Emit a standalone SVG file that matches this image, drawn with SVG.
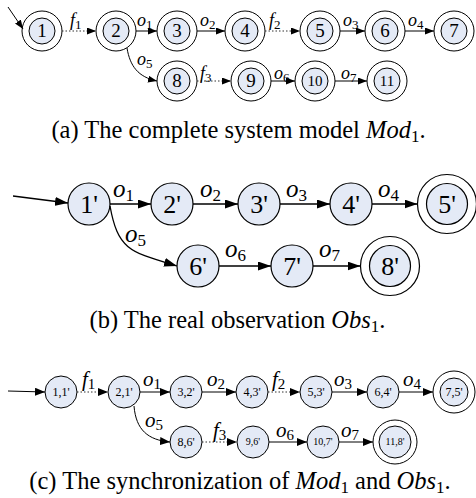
<svg xmlns="http://www.w3.org/2000/svg" width="476" height="498" viewBox="0 0 476 498">
<defs>
<style>
.n{fill:#e4eaf6;stroke:#000;stroke-width:1}
.o{fill:#fff;stroke:#000;stroke-width:1}
.nb{fill:#e4eaf6;stroke:#000;stroke-width:1.2}
.ob{fill:#fff;stroke:#000;stroke-width:1.2}
.e{fill:none;stroke:#000;stroke-width:1}
.eb{fill:none;stroke:#000;stroke-width:1.3}
.d{fill:none;stroke:#333;stroke-width:1;stroke-dasharray:1.5 2}
.t{font-family:"Liberation Serif","Times New Roman",serif;text-anchor:middle;fill:#000}
.l{font-family:"Liberation Serif","Times New Roman",serif;font-style:italic;fill:#000}
.s{font-style:normal}
.cap{font-family:"Liberation Serif","Times New Roman",serif;font-size:24.5px;text-anchor:middle;fill:#000}
</style>
<marker id="aA" viewBox="0 0 9 7" markerWidth="9" markerHeight="7" refX="9" refY="3.5" orient="auto" markerUnits="userSpaceOnUse"><path d="M0,0 L9,3.5 L0,7 z" fill="#000"/></marker>
<marker id="aB" viewBox="0 0 13 9" markerWidth="13" markerHeight="9" refX="13" refY="4.5" orient="auto" markerUnits="userSpaceOnUse"><path d="M0,0 L13,4.5 L0,9 z" fill="#000"/></marker>
<marker id="aC" viewBox="0 0 10 8" markerWidth="10" markerHeight="8" refX="10" refY="4" orient="auto" markerUnits="userSpaceOnUse"><path d="M0,0 L10,4 L0,8 z" fill="#000"/></marker>
</defs>
<rect width="476" height="498" fill="#fff"/>

<!-- (a) nodes -->
<g id="a1"><circle class="o" cx="42" cy="31" r="20"/><circle class="n" cx="42" cy="31" r="13"/><text class="t" x="42" y="37.4" font-size="19">1</text></g>
<g id="a2"><circle class="o" cx="116" cy="31" r="20"/><circle class="n" cx="116" cy="31" r="13"/><text class="t" x="116" y="37.4" font-size="19">2</text></g>
<g id="a3"><circle class="o" cx="177" cy="31" r="20"/><circle class="n" cx="177" cy="31" r="13"/><text class="t" x="177" y="37.4" font-size="19">3</text></g>
<g id="a4"><circle class="o" cx="245" cy="31" r="20"/><circle class="n" cx="245" cy="31" r="13"/><text class="t" x="245" y="37.4" font-size="19">4</text></g>
<g id="a5"><circle class="o" cx="320" cy="31" r="20"/><circle class="n" cx="320" cy="31" r="13"/><text class="t" x="320" y="37.4" font-size="19">5</text></g>
<g id="a6"><circle class="o" cx="385" cy="31" r="20"/><circle class="n" cx="385" cy="31" r="13"/><text class="t" x="385" y="37.4" font-size="19">6</text></g>
<g id="a7"><circle class="o" cx="454" cy="31" r="20"/><circle class="n" cx="454" cy="31" r="13"/><text class="t" x="454" y="37.4" font-size="19">7</text></g>
<g id="a8"><circle class="o" cx="177" cy="81" r="20"/><circle class="n" cx="177" cy="81" r="13"/><text class="t" x="177" y="87.4" font-size="19">8</text></g>
<g id="a9"><circle class="o" cx="251" cy="81" r="20"/><circle class="n" cx="251" cy="81" r="13"/><text class="t" x="251" y="87.4" font-size="19">9</text></g>
<g id="a10"><circle class="o" cx="315" cy="81" r="20"/><circle class="n" cx="315" cy="81" r="13"/><text class="t" x="315" y="86" font-size="15">10</text></g>
<g id="a11"><circle class="o" cx="387" cy="81" r="20"/><circle class="n" cx="387" cy="81" r="13"/><text class="t" x="387" y="86" font-size="15">11</text></g>

<!-- (b) nodes -->
<g id="b1"><circle class="nb" cx="89" cy="204" r="21"/><text class="t" x="89" y="212.8" font-size="26">1'</text></g>
<g id="b2"><circle class="nb" cx="172" cy="204" r="21"/><text class="t" x="172" y="212.8" font-size="26">2'</text></g>
<g id="b3"><circle class="nb" cx="259" cy="204" r="21"/><text class="t" x="259" y="212.8" font-size="26">3'</text></g>
<g id="b4"><circle class="nb" cx="351" cy="204" r="21"/><text class="t" x="351" y="212.8" font-size="26">4'</text></g>
<g id="b5"><circle class="ob" cx="447" cy="204" r="29.5"/><circle class="nb" cx="447" cy="204" r="20.5"/><text class="t" x="447" y="212.8" font-size="26">5'</text></g>
<g id="b6"><circle class="nb" cx="198" cy="266" r="21"/><text class="t" x="198" y="274.8" font-size="26">6'</text></g>
<g id="b7"><circle class="nb" cx="292" cy="266" r="21"/><text class="t" x="292" y="274.8" font-size="26">7'</text></g>
<g id="b8"><circle class="ob" cx="390" cy="266" r="29.5"/><circle class="nb" cx="390" cy="266" r="20.5"/><text class="t" x="390" y="274.8" font-size="26">8'</text></g>

<!-- (c) nodes -->
<g id="c11"><circle class="n" cx="61" cy="392" r="16"/><text class="t" x="61" y="396" font-size="12">1,1'</text></g>
<g id="c21"><circle class="n" cx="124" cy="392" r="16"/><text class="t" x="124" y="396" font-size="12">2,1'</text></g>
<g id="c32"><circle class="n" cx="186" cy="392" r="16"/><text class="t" x="186" y="396" font-size="12">3,2'</text></g>
<g id="c43"><circle class="n" cx="252" cy="392" r="16"/><text class="t" x="252" y="396" font-size="12">4,3'</text></g>
<g id="c53"><circle class="n" cx="316" cy="392" r="16"/><text class="t" x="316" y="396" font-size="12">5,3'</text></g>
<g id="c64"><circle class="n" cx="383" cy="392" r="16"/><text class="t" x="383" y="396" font-size="12">6,4'</text></g>
<g id="c75"><circle class="o" cx="454" cy="392" r="21"/><circle class="n" cx="454" cy="392" r="14"/><text class="t" x="454" y="396" font-size="12">7,5'</text></g>
<g id="c86"><circle class="n" cx="186" cy="442" r="16"/><text class="t" x="186" y="446" font-size="12">8,6'</text></g>
<g id="c96"><circle class="n" cx="253" cy="442" r="16"/><text class="t" x="253" y="445.4" font-size="10">9,6'</text></g>
<g id="c107"><circle class="n" cx="323" cy="442" r="16"/><text class="t" x="323" y="445.4" font-size="10">10,7'</text></g>
<g id="c118"><circle class="o" cx="395" cy="442" r="22"/><circle class="n" cx="395" cy="442" r="16"/><text class="t" x="395" y="445.4" font-size="10">11,8'</text></g>

<g id="connectors">
<!-- (a) -->
<path class="e" d="M8,7 L23,29" marker-end="url(#aA)"/>
<path class="d" d="M62,31 L96,31" marker-end="url(#aA)"/>
<path class="e" d="M136,31 L157,31" marker-end="url(#aA)"/>
<path class="e" d="M197,31 L225,31" marker-end="url(#aA)"/>
<path class="d" d="M265,31 L300,31" marker-end="url(#aA)"/>
<path class="e" d="M340,31 L365,31" marker-end="url(#aA)"/>
<path class="e" d="M405,31 L434,31" marker-end="url(#aA)"/>
<path class="e" d="M127,48 C130,66 138,77 157,81" marker-end="url(#aA)"/>
<path class="d" d="M197,81 L231,81" marker-end="url(#aA)"/>
<path class="e" d="M271,81 L295,81" marker-end="url(#aA)"/>
<path class="e" d="M335,81 L367,81" marker-end="url(#aA)"/>
<g font-size="18">
<text class="l" x="70" y="25.5">f<tspan class="s" font-size="13" dy="3">1</tspan></text>
<text class="l" x="137" y="25.5">o<tspan class="s" font-size="13" dy="3">1</tspan></text>
<text class="l" x="200" y="25.5">o<tspan class="s" font-size="13" dy="3">2</tspan></text>
<text class="l" x="269" y="25.5">f<tspan class="s" font-size="13" dy="3">2</tspan></text>
<text class="l" x="343" y="25.5">o<tspan class="s" font-size="13" dy="3">3</tspan></text>
<text class="l" x="408" y="25.5">o<tspan class="s" font-size="13" dy="3">4</tspan></text>
<text class="l" x="137" y="65">o<tspan class="s" font-size="13" dy="3">5</tspan></text>
<text class="l" x="200" y="79">f<tspan class="s" font-size="13" dy="3">3</tspan></text>
<text class="l" x="274" y="79">o<tspan class="s" font-size="13" dy="3">6</tspan></text>
<text class="l" x="341" y="79">o<tspan class="s" font-size="13" dy="3">7</tspan></text>
</g>
<!-- (b) -->
<path class="eb" d="M13,196 L68,203" marker-end="url(#aB)"/>
<path class="eb" d="M110,204 L151,204" marker-end="url(#aB)"/>
<path class="eb" d="M193,204 L238,204" marker-end="url(#aB)"/>
<path class="eb" d="M280,204 L330,204" marker-end="url(#aB)"/>
<path class="eb" d="M372,204 L417.5,204" marker-end="url(#aB)"/>
<path class="eb" d="M110,206 C118,250 130,252 177,266" marker-end="url(#aB)"/>
<path class="eb" d="M219,266 L271,266" marker-end="url(#aB)"/>
<path class="eb" d="M313,266 L360.5,266" marker-end="url(#aB)"/>
<g font-size="25">
<text class="l" x="113" y="197">o<tspan class="s" font-size="17" dy="4">1</tspan></text>
<text class="l" x="200" y="197">o<tspan class="s" font-size="17" dy="4">2</tspan></text>
<text class="l" x="286" y="197">o<tspan class="s" font-size="17" dy="4">3</tspan></text>
<text class="l" x="378" y="197">o<tspan class="s" font-size="17" dy="4">4</tspan></text>
<text class="l" x="125" y="242">o<tspan class="s" font-size="17" dy="4">5</tspan></text>
<text class="l" x="225" y="257">o<tspan class="s" font-size="17" dy="4">6</tspan></text>
<text class="l" x="319" y="257">o<tspan class="s" font-size="17" dy="4">7</tspan></text>
</g>
<!-- (c) -->
<path class="e" d="M8,391 L45,392" marker-end="url(#aC)"/>
<path class="d" d="M77,392 L108,392" marker-end="url(#aC)"/>
<path class="e" d="M140,392 L170,392" marker-end="url(#aC)"/>
<path class="e" d="M202,392 L236,392" marker-end="url(#aC)"/>
<path class="d" d="M268,392 L300,392" marker-end="url(#aC)"/>
<path class="e" d="M332,392 L367,392" marker-end="url(#aC)"/>
<path class="e" d="M399,392 L433,392" marker-end="url(#aC)"/>
<path class="e" d="M134,406 C136,430 148,440 170,442" marker-end="url(#aC)"/>
<path class="d" d="M202,442 L237,442" marker-end="url(#aC)"/>
<path class="e" d="M269,442 L307,442" marker-end="url(#aC)"/>
<path class="e" d="M339,442 L373,442" marker-end="url(#aC)"/>
<g font-size="21">
<text class="l" x="82" y="386">f<tspan class="s" font-size="15" dy="3">1</tspan></text>
<text class="l" x="143" y="386">o<tspan class="s" font-size="15" dy="3">1</tspan></text>
<text class="l" x="207" y="386">o<tspan class="s" font-size="15" dy="3">2</tspan></text>
<text class="l" x="272" y="386">f<tspan class="s" font-size="15" dy="3">2</tspan></text>
<text class="l" x="334" y="386">o<tspan class="s" font-size="15" dy="3">3</tspan></text>
<text class="l" x="403" y="386">o<tspan class="s" font-size="15" dy="3">4</tspan></text>
<text class="l" x="145" y="427">o<tspan class="s" font-size="15" dy="3">5</tspan></text>
<text class="l" x="213" y="437">f<tspan class="s" font-size="15" dy="3">3</tspan></text>
<text class="l" x="276" y="437">o<tspan class="s" font-size="15" dy="3">6</tspan></text>
<text class="l" x="341" y="437">o<tspan class="s" font-size="15" dy="3">7</tspan></text>
</g>
</g>

<text class="cap" x="238.5" y="138">(a) The complete system model <tspan font-style="italic">Mod</tspan><tspan font-size="17" dy="3.5">1</tspan><tspan dy="-3.5">.</tspan></text>
<text class="cap" x="237.5" y="328">(b) The real observation <tspan font-style="italic">Obs</tspan><tspan font-size="17" dy="3.5">1</tspan><tspan dy="-3.5">.</tspan></text>
<text class="cap" x="240" y="489">(c) The synchronization of <tspan font-style="italic">Mod</tspan><tspan font-size="17" dy="3.5">1</tspan><tspan dy="-3.5"> and </tspan><tspan font-style="italic">Obs</tspan><tspan font-size="17" dy="3.5">1</tspan><tspan dy="-3.5">.</tspan></text>
</svg>
